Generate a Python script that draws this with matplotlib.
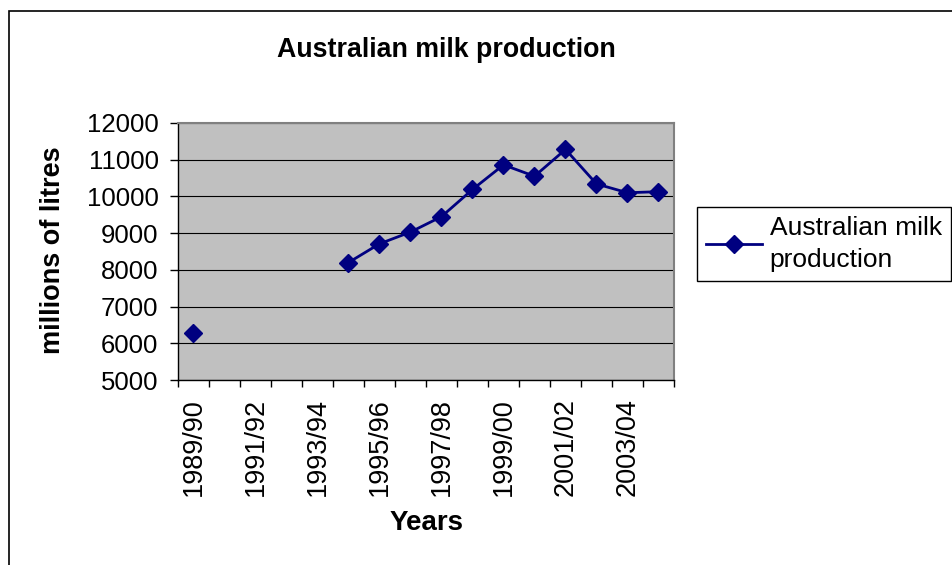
import numpy as np
import matplotlib.pyplot as plt
from matplotlib.patches import Rectangle

plt.rcParams['font.family'] = ['Liberation Sans', 'DejaVu Sans']

# Data (millions of litres), gaps where no value shown
years = ['1989/90', '1990/91', '1991/92', '1992/93', '1993/94', '1994/95',
         '1995/96', '1996/97', '1997/98', '1998/99', '1999/00', '2000/01',
         '2001/02', '2002/03', '2003/04', '2004/05']
milk = [6280, np.nan, np.nan, np.nan, np.nan, 8200,
        8710, 9030, 9450, 10190, 10860, 10550,
        11280, 10340, 10100, 10130]

fig = plt.figure(figsize=(9.53, 5.65), dpi=100)
ax = fig.add_axes([178/953, 1-380/565, (674-178)/953, (380-123)/565])

x = np.arange(len(years))
ax.plot(x, milk, color='#000080', lw=2, marker='D', markersize=9,
        label='Australian milk\nproduction')

ax.set_facecolor('#C0C0C0')
ax.set_xlim(-0.5, len(years) - 0.5)
ax.set_ylim(5000, 12000)
ax.set_yticks(np.arange(5000, 12001, 1000))
ax.grid(axis='y', color='black', lw=0.8)
ax.set_axisbelow(True)

# labels every other category, tick marks on category boundaries
ax.set_xticks(x[::2])
ax.set_xticklabels(years[::2], rotation=90)
ax.set_xticks(np.arange(-0.5, len(years)), minor=True)
ax.tick_params(axis='x', which='major', length=0, pad=13, labelsize=19.5)
ax.tick_params(axis='x', which='minor', length=5, width=1, direction='out')
ax.tick_params(axis='y', length=6, width=1, labelsize=18.5, pad=8)

for s in ['top', 'right']:
    ax.spines[s].set_color('#808080')
    ax.spines[s].set_linewidth(1.5)
for s in ['left', 'bottom']:
    ax.spines[s].set_color('black')
    ax.spines[s].set_linewidth(1)

fig.text(427/953, 1-523/565, 'Years', fontsize=20, fontweight='bold',
         ha='center', va='center')
fig.text(53/953, 1-250/565, 'millions of litres', fontsize=19.5,
         fontweight='bold', ha='center', va='center', rotation=90)
fig.text(446/953, 1-50/565, 'Australian milk production', fontsize=19.3,
         fontweight='bold', ha='center', va='center')

leg = ax.legend(loc='upper left', bbox_to_anchor=(697/953, 1-207/565),
                bbox_transform=fig.transFigure, fontsize=19, frameon=True,
                fancybox=False, edgecolor='black', framealpha=1,
                handlelength=2.1, borderpad=0.35, handletextpad=0.3,
                borderaxespad=0)
leg.get_texts()[0].set_linespacing(1.4)
leg.get_frame().set_linewidth(1)

# chart area border
fig.patches.append(Rectangle((9.5/953, -0.1), 1.2, 1 - 10.5/565 + 0.1,
                             transform=fig.transFigure, fill=False,
                             edgecolor='black', lw=1.2))

plt.savefig('out.png', dpi=100)
